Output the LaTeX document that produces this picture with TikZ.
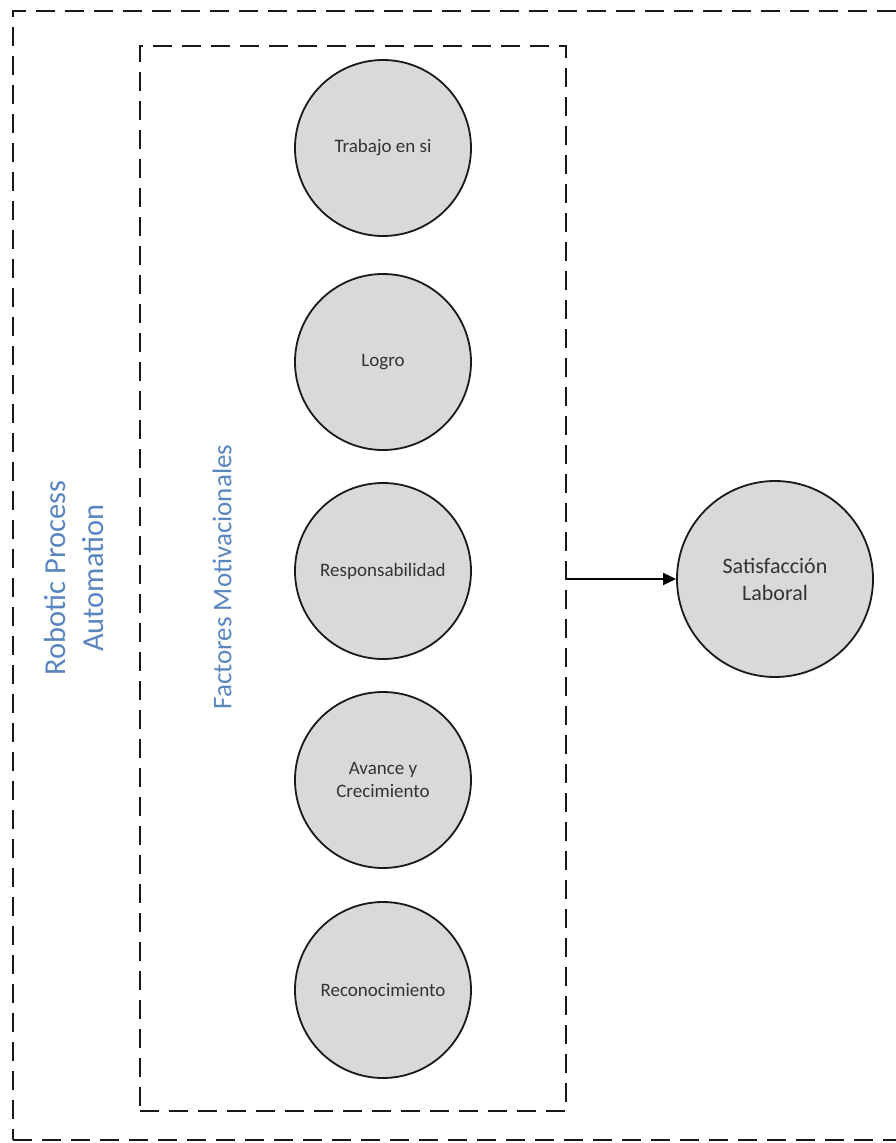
\documentclass[tikz,border=0pt]{standalone}
\usepackage{fontspec}
\setmainfont{Carlito}
\usetikzlibrary{arrows.meta}
\definecolor{circfill}{HTML}{D9D9D9}
\definecolor{labelblue}{HTML}{5A86C0}
\definecolor{txtgray}{HTML}{333333}
\tikzset{
  dashbox/.style={draw=black!90, line width=2.6pt, dash pattern=on 19pt off 10pt},
  factor/.style={circle, draw=black!90, line width=1.8pt, fill=circfill, minimum size=176pt, inner sep=0pt, align=center, text=txtgray, font=\fontsize{19}{23}\selectfont},
  result/.style={circle, draw=black!90, line width=1.8pt, fill=circfill, minimum size=196pt, inner sep=0pt, align=center, text=txtgray, font=\fontsize{22}{27}\selectfont},
  vlabel/.style={rotate=90, align=center, text=labelblue},
  conn/.style={line width=1.8pt, -{Triangle[length=13pt,width=12pt]}}
}
\begin{document}
\begin{tikzpicture}[x=1pt,y=-1pt]
\useasboundingbox (0,0) rectangle (896,1143);
\clip (0,0) rectangle (896,1143);
\fill[white] (0,0) rectangle (896,1143);
\node (outer) [dashbox, minimum width=892pt, minimum height=1129pt, inner sep=0pt] at (459,575.5) {};
\node (inner) [dashbox, minimum width=426pt, minimum height=1065pt, inner sep=0pt] at (353,578.5) {};
\node (rpa) [vlabel, font=\fontsize{30.5}{38}\selectfont] at (74,578) {Robotic Process\\Automation};
\node (fm) [vlabel, font=\fontsize{27}{32}\selectfont] at (222,577) {Factores Motivacionales};
\node (f1) [factor] at (383,148) {Trabajo en si};
\node (f2) [factor] at (383,362) {Logro};
\node (f3) [factor] at (383,571) {Responsabilidad};
\node (f4) [factor] at (383,780) {Avance y\\Crecimiento};
\node (f5) [factor] at (383,990) {Reconocimiento};
\node (sat) [result] at (775,579) {Satisfacción\\Laboral};
\draw[conn] (inner.east |- sat.west) -- (sat.west);
\end{tikzpicture}
\end{document}
